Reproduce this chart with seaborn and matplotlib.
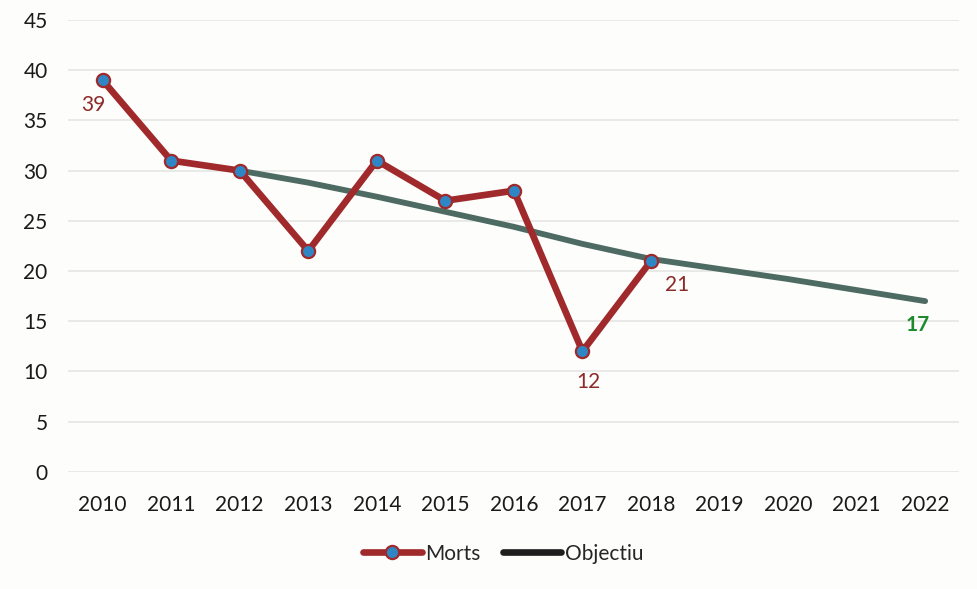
import matplotlib
matplotlib.use("Agg")
import matplotlib.pyplot as plt
import seaborn as sns
import pandas as pd
from matplotlib.lines import Line2D

# Road deaths per year and the reduction target path
years = [2010, 2011, 2012, 2013, 2014, 2015, 2016, 2017, 2018, 2019, 2020, 2021, 2022]
morts_years = [2010, 2011, 2012, 2013, 2014, 2015, 2016, 2017, 2018]
morts = [39, 31, 30, 22, 31, 27, 28, 12, 21]
objectiu_years = [2012, 2013, 2014, 2015, 2016, 2017, 2018, 2019, 2020, 2021, 2022]
objectiu = [30, 28.8, 27.4, 25.9, 24.4, 22.7, 21.2, 20.2, 19.2, 18.1, 17.0]
y_ticks = [0, 5, 10, 15, 20, 25, 30, 35, 40, 45]

# Years whose value is written next to the point
morts_labels = [2010, 2017, 2018]
objectiu_labels = [2022]

RED = "#a0292c"
BLUE = "#2f86c4"
GREEN_GREY = "#4d6b62"
LABEL_RED = "#8c2a2a"
LABEL_GREEN = "#1d8a2c"

sns.set_theme(style="white")
plt.rcParams["font.family"] = ["Lato", "DejaVu Sans"]

fig = plt.figure(figsize=(9.77, 5.89), dpi=100, facecolor="#fdfdfb")
ax = fig.add_axes([0.070, 0.199, 0.912, 0.767])
ax.set_facecolor("#fdfdfb")

df_m = pd.DataFrame({"Any": morts_years, "Valor": morts})
df_o = pd.DataFrame({"Any": objectiu_years, "Valor": objectiu})

sns.lineplot(data=df_o, x="Any", y="Valor", ax=ax, color=GREEN_GREY,
             linewidth=4.2, zorder=3, solid_capstyle="round")
sns.lineplot(data=df_m, x="Any", y="Valor", ax=ax, color=RED,
             linewidth=4.8, marker="o", markersize=9.5,
             markerfacecolor=BLUE, markeredgecolor=RED, markeredgewidth=1.6,
             zorder=4)

ax.set_xlim(2009.5, 2022.5)
ax.set_ylim(0, 45)
ax.set_xticks(years)
ax.set_xticklabels([str(y) for y in years])
ax.set_yticks(y_ticks)
ax.tick_params(axis="both", labelsize=15, colors="#1a1a1a", length=0)
ax.tick_params(axis="x", pad=17)
ax.tick_params(axis="y", pad=15)
ax.grid(axis="y", color="#e6e6e4", linewidth=1.2)
ax.set_axisbelow(True)
for s in ax.spines.values():
    s.set_visible(False)
ax.set_xlabel("")
ax.set_ylabel("")

# value annotations
offsets = {2010: (-7, -18), 2017: (4, -22), 2018: (19, -17)}
for yr in morts_labels:
    v = morts[morts_years.index(yr)]
    dx, dy = offsets[yr]
    ax.annotate(str(v), (yr, v), xytext=(dx, dy), textcoords="offset points",
                ha="center", va="center", fontsize=15, color=LABEL_RED)
for yr in objectiu_labels:
    v = objectiu[objectiu_years.index(yr)]
    ax.annotate(f"{v:.0f}", (yr, v), xytext=(-5, -17), textcoords="offset points",
                ha="center", va="center", fontsize=15, color=LABEL_GREEN,
                fontweight="bold")

handles = [
    Line2D([0], [0], color=RED, linewidth=4.8, marker="o", markersize=9.5,
           markerfacecolor=BLUE, markeredgecolor=RED, markeredgewidth=1.6),
    Line2D([0], [0], color="#1e1e1e", linewidth=4.8, solid_capstyle="round"),
]
fig.legend(handles, ["Morts", "Objectiu"], loc="center", bbox_to_anchor=(0.515, 0.06),
           ncol=2, frameon=False, fontsize=15, handlelength=2.8,
           handletextpad=0.15, columnspacing=1.1)

fig.savefig("out.png", dpi=100, facecolor=fig.get_facecolor())
